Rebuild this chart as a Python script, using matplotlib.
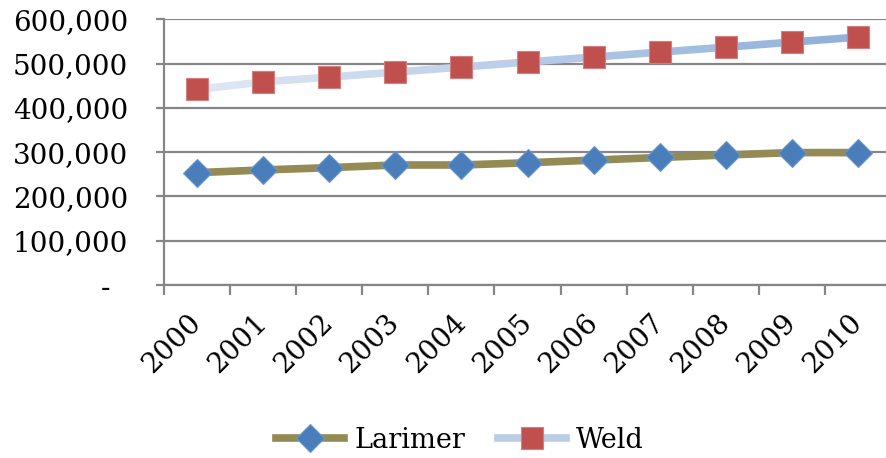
import numpy as np
import matplotlib.pyplot as plt
from matplotlib.ticker import FuncFormatter, MultipleLocator
from matplotlib.collections import LineCollection
from matplotlib.colors import to_rgb
from matplotlib.lines import Line2D

years = ['2000', '2001', '2002', '2003', '2004', '2005',
         '2006', '2007', '2008', '2009', '2010']
larimer = [253700, 259800, 265000, 271000, 271000, 276000,
           282000, 288000, 293600, 299000, 299000]
weld = [441600, 458600, 469500, 480800, 492000, 503700,
        514600, 525900, 537000, 548500, 559800]

plt.rcParams['font.family'] = ['DejaVu Serif']

def thousands(v, pos):
    if v == 0:
        return '-  '
    return '{:,.0f}'.format(v)

fig = plt.figure(figsize=(8.86, 4.58), dpi=100)
ax = fig.add_axes([164 / 886, 1 - 285 / 458, (891 - 164) / 886, (285 - 19.3) / 458])

x = np.arange(len(years))
grey = '#868686'

# Weld line: pale blue fading darker to the right
pts = np.column_stack([x, weld])
segs = np.stack([pts[:-1], pts[1:]], axis=1)
c0, c1 = np.array(to_rgb('#DCE6F3')), np.array(to_rgb('#93B1DA'))
t = np.linspace(0, 1, len(segs))
cols = [c0 + (c1 - c0) * ti for ti in t]
ax.add_collection(LineCollection(segs, colors=cols, linewidths=5.5, zorder=3,
                                 capstyle='butt'))
ax.plot(x, weld, ls='none', zorder=4, marker='s', ms=16.5,
        mfc='#C0504D', mec='#D27F7D', mew=0.8)
ax.plot(x, larimer, color='#948A54', lw=5.5, solid_capstyle='butt', zorder=3,
        marker='D', ms=14, mfc='#4A7EBB', mec='#6B96C8', mew=0.8)

ax.set_xlim(-0.5, len(years) - 0.5)
ax.set_ylim(0, 600000)
ax.yaxis.set_major_locator(MultipleLocator(100000))
ax.yaxis.set_major_formatter(FuncFormatter(thousands))
ax.grid(axis='y', color=grey, lw=1.6)
ax.set_axisbelow(True)

for s in ['top', 'right']:
    ax.spines[s].set_visible(False)
for s in ['left', 'bottom']:
    ax.spines[s].set_color(grey)
    ax.spines[s].set_linewidth(1.6)

ax.set_xticks(x)
ax.set_xticklabels(years, rotation=45, rotation_mode='anchor', ha='right', va='center')
ax.set_xticks(np.arange(-0.5, len(years)), minor=True)
ax.tick_params(axis='x', which='major', length=0, pad=24, labelsize=20)
ax.tick_params(axis='x', which='minor', length=7, width=1.6, color=grey)
ax.tick_params(axis='y', length=6, width=1.6, color=grey, pad=20, labelsize=20)

handles = [
    Line2D([], [], color='#948A54', lw=5.5, marker='D', ms=14,
           mfc='#4A7EBB', mec='#6B96C8', mew=0.8),
    Line2D([], [], color='#BACDE6', lw=5.5, marker='s', ms=16.5,
           mfc='#C0504D', mec='#D27F7D', mew=0.8),
]
fig.legend(handles, ['Larimer', 'Weld'], loc='center', ncol=2, frameon=False,
           bbox_to_anchor=(460 / 886, 18 / 458), fontsize=19.5,
           handlelength=2.5, columnspacing=1.2, handletextpad=0.4)

fig.savefig('out.png', dpi=100)
